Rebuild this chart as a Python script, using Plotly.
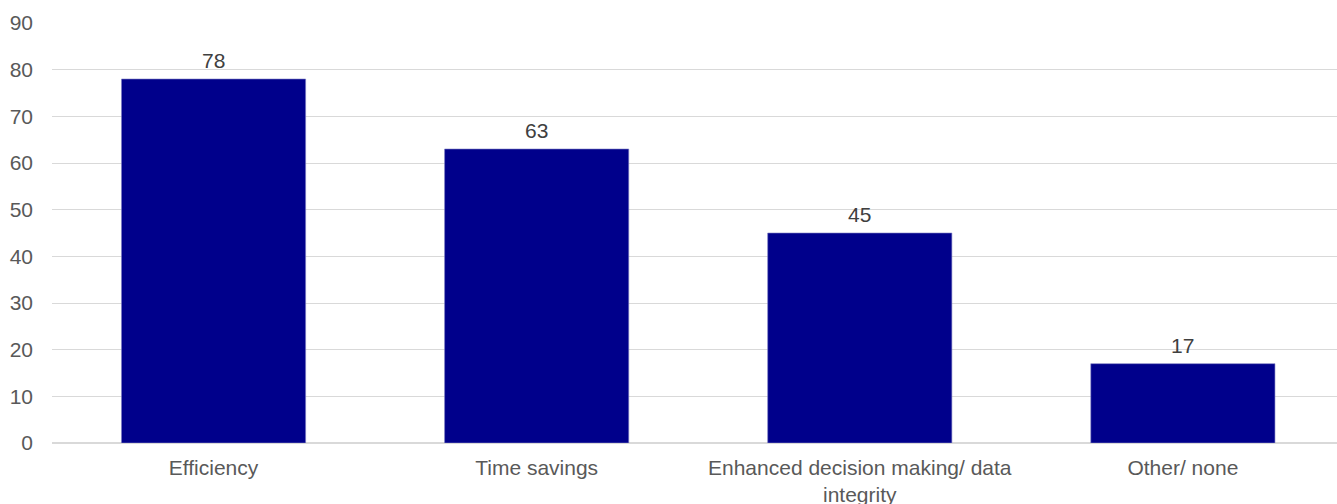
import plotly.graph_objects as go

categories = ["Efficiency", "Time savings", "Enhanced decision making/ data<br>integrity", "Other/ none"]
values = [78, 63, 45, 17]
y_ticks = [0, 10, 20, 30, 40, 50, 60, 70, 80, 90]

text_color = "#595959"
font_family = "Liberation Sans, Arial, sans-serif"
font_size = 21

x_pos = list(range(len(categories)))

fig = go.Figure(
    go.Bar(
        x=x_pos,
        y=values,
        width=0.57,
        marker=dict(color="#00008B", line=dict(color="#7f7fc5", width=0.6)),
        cliponaxis=False,
    )
)

# value labels sitting just above each bar
for xi, v in zip(x_pos, values):
    fig.add_annotation(
        x=xi, y=v, text=str(v),
        showarrow=False, yanchor="bottom", yshift=5,
        font=dict(size=font_size, color="#404040", family=font_family),
    )

fig.update_layout(
    width=1337,
    height=504,
    margin=dict(l=52, r=0, t=23, b=61),
    paper_bgcolor="white",
    plot_bgcolor="white",
    showlegend=False,
    font=dict(family=font_family, size=font_size, color=text_color),
    xaxis=dict(
        range=[-0.5, 3.477],
        tickmode="array",
        tickvals=x_pos,
        ticktext=categories,
        showgrid=False,
        showline=False,
        zeroline=False,
        ticks="",
        ticklabelstandoff=10,
        automargin=False,
        tickfont=dict(size=font_size, color=text_color),
    ),
    yaxis=dict(
        range=[0, 90],
        tickmode="array",
        tickvals=y_ticks,
        showgrid=True,
        gridcolor="#d9d9d9",
        gridwidth=1,
        zeroline=True,
        zerolinecolor="#d9d9d9",
        zerolinewidth=1.5,
        showline=False,
        ticks="",
        ticklabelstandoff=18,
        automargin=False,
        tickfont=dict(size=font_size, color=text_color),
    ),
)

fig.write_html("out.html")
